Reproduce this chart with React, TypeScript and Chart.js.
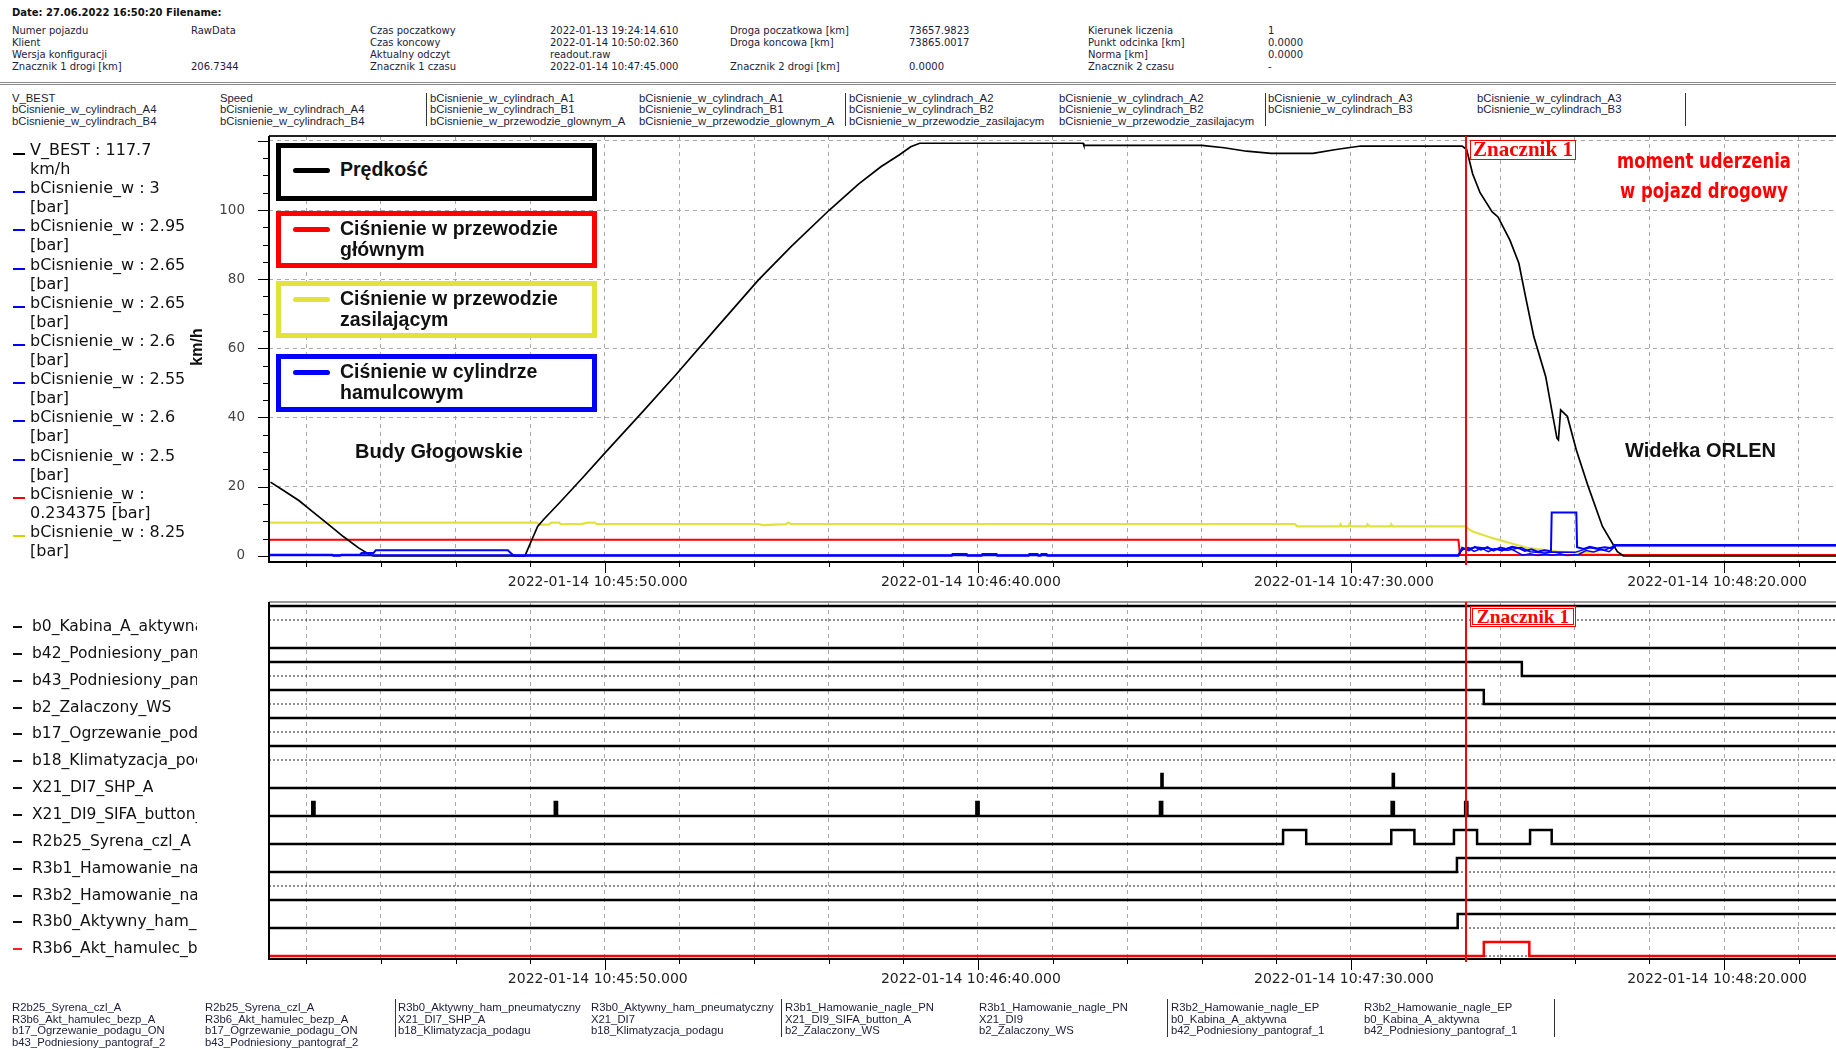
import React, { useEffect, useRef } from 'react';
import { Chart, registerables } from 'chart.js';
Chart.register(...registerables);

type Pt = [number, number];

// ---- time axis (seconds after 2022-01-14 10:45:00) ----
const X_MIN = 5;
const X_MAX = 215;
const GRID_TIMES = [10, 20, 30, 40, 50, 60, 70, 80, 90, 100, 110, 120, 130, 140, 150, 160, 170, 180, 190, 200, 210];
const LABEL_TIMES = [50, 100, 150, 200];
const MARKER_TIME = 165.4;
const Y_TICKS = [0, 5, 10, 15, 20, 25, 30, 35, 40, 45, 50, 55, 60, 65, 70, 75, 80, 85, 90, 95, 100, 105, 110, 115, 120];
const Y_LABELS = [0, 20, 40, 60, 80, 100];

// ---- upper chart series ----
const SPEED: Pt[] = [[5.2, 21.3], [7, 18.8], [9, 16], [11, 12.5], [13, 9], [15, 5.5], [17, 2.3], [18.5, 0.3], [19, 0], [39.3, 0], [39.6, 1.5], [40.3, 5], [41, 8.5], [41.8, 10.5], [44, 15.5], [47, 22.5], [50, 29.7], [55, 41.5], [59.5, 52.3], [65, 66], [70.6, 79.8], [75, 89.5], [80.1, 100], [84, 107.5], [87, 112.5], [89.5, 116], [91, 118.3], [92.2, 119.3], [114.1, 119.3], [114.2, 118.7], [130, 118.7], [133, 118], [136, 117], [139.3, 116.4], [144.9, 116.4], [148, 117.5], [151.3, 118.5], [164.9, 118.5], [165.5, 117.5], [166.3, 110.5], [167.3, 105], [168.9, 99.5], [169.7, 98], [171.3, 91.3], [172.5, 84.6], [173.4, 74.9], [174.5, 63.4], [176.1, 51.8], [176.9, 42.2], [177.6, 34], [177.8, 33.5], [178.1, 42.2], [179, 40.3], [180.2, 30.6], [181.8, 20], [183.7, 8.5], [185.7, 1.2], [186.5, 0], [215, 0]];
const MAIN_PIPE: Pt[] = [[5, 4.65], [164.4, 4.65], [164.6, 0.25], [215, 0.2]];
const SUPPLY_PIPE: Pt[] = [[5, 9.6], [40.9, 9.6], [41.2, 9.0], [42.5, 9.0], [42.8, 9.6], [43.9, 9.6], [44.1, 9.15], [46.7, 9.15], [47.8, 9.6], [48.7, 9.6], [48.9, 9.15], [70.6, 9.15], [71.2, 8.9], [74.3, 9.15], [74.6, 9.6], [75, 9.15], [142.5, 9.15], [142.8, 8.5], [148.5, 8.5], [148.6, 9.1], [148.8, 8.5], [149.7, 8.5], [149.8, 9.1], [150, 8.5], [152.1, 8.5], [152.2, 9.1], [152.5, 8.5], [155.3, 8.5], [155.4, 9.1], [155.6, 8.5], [165.3, 8.5], [166.3, 7.0], [169, 5.1], [171.3, 3.7], [173.6, 2.3], [177.7, 1.2], [181.8, 0.8], [185.7, 0.3], [193.7, 0.1], [215, 0.1]];
const CYL_A: Pt[] = [[5, 0.3], [13.5, 0.3], [13.6, 0], [14.5, 0], [14.7, 0.3], [17.2, 0.3], [17.4, 0.8], [19, 0.8], [19.3, 1.6], [37, 1.6], [37.8, 0], [96.5, 0], [96.6, 0.5], [98.5, 0.5], [98.6, 0], [100.5, 0], [100.6, 0.5], [102.5, 0.5], [102.6, 0], [106.8, 0], [106.9, 0.5], [108, 0.5], [108.1, 0], [108.4, 0], [108.5, 0.5], [109.2, 0.5], [109.3, 0], [164.4, 0], [164.9, 2.3], [165.8, 1.6], [166.6, 2.6], [167.4, 1.8], [168.3, 2.5], [169.1, 1.5], [170, 2.4], [170.8, 2.0], [171.6, 2.6], [172.5, 2.2], [173.3, 1.4], [174.2, 1.9], [175, 1.2], [175.9, 1.6], [176.8, 1.3], [176.9, 12.5], [180.2, 12.5], [180.3, 2.5], [181.2, 2.0], [182, 2.6], [183, 2.1], [184, 2.5], [185, 2.2], [185.3, 3.1], [215, 3.1]];
const CYL_B: Pt[] = [[5, 0.1], [164.4, 0.1], [164.8, 1.6], [165.7, 2.4], [166.5, 1.3], [167.5, 2.2], [168.4, 1.2], [169.3, 2.1], [170.2, 1.4], [171.2, 2.3], [172.3, 1.0], [173, 0.2], [174, 0.6], [175, 0.1], [176, 0.5], [177, 0.2], [178, 0.6], [179, 0.1], [180.5, 0.4], [181.5, 1.5], [182.5, 1.1], [183.5, 1.8], [184.6, 1.2], [185.5, 2.9], [215, 2.9]];
const CYL_C: Pt[] = [[5, 0.2], [164.3, 0.2], [165, 2.0], [167, 2.5], [169, 2.0], [171, 1.6], [172.8, 2.4], [174, 1.2], [176, 0.8], [177, 1.1], [180, 1.0], [182, 2.3], [184, 1.6], [185.4, 3.0], [215, 3.0]];

// ---- lower chart: binary signals ----
const SIGNAL_NAMES = ['b0_Kabina_A_aktywna', 'b42_Podniesiony_pantograf_1', 'b43_Podniesiony_pantograf_2', 'b2_Zalaczony_WS', 'b17_Ogrzewanie_podagu_ON', 'b18_Klimatyzacja_podagu', 'X21_DI7_SHP_A', 'X21_DI9_SIFA_button_A', 'R2b25_Syrena_czl_A', 'R3b1_Hamowanie_nagle_PN', 'R3b2_Hamowanie_nagle_EP', 'R3b0_Aktywny_ham_pneumatyczny', 'R3b6_Akt_hamulec_bezp_A'];
const SIG_B0: Pt[] = [[X_MIN, 1]];
const SIG_B42: Pt[] = [[X_MIN, 0]];
const SIG_B43: Pt[] = [[X_MIN, 1], [172.9, 0]];
const SIG_B2: Pt[] = [[X_MIN, 1], [167.8, 0]];
const SIG_B17: Pt[] = [[X_MIN, 1]];
const SIG_B18: Pt[] = [[X_MIN, 1]];
const SIG_SHP: Pt[] = [[X_MIN, 0], [124.6, 1], [124.75, 0], [155.6, 1], [155.75, 0]];
const SIG_SIFA: Pt[] = [[X_MIN, 0], [10.8, 1], [11.1, 0], [43.3, 1], [43.6, 0], [99.8, 1], [100.1, 0], [124.4, 1], [124.7, 0], [155.45, 1], [155.75, 0], [165.3, 1], [165.6, 0]];
const SIG_SYRENA: Pt[] = [[X_MIN, 0], [140.9, 1], [144.0, 0], [155.4, 1], [158.5, 0], [163.8, 1], [166.9, 0], [174.0, 1], [176.9, 0]];
const SIG_R3B1: Pt[] = [[X_MIN, 0], [164.2, 1]];
const SIG_R3B2: Pt[] = [[X_MIN, 0]];
const SIG_R3B0: Pt[] = [[X_MIN, 0], [164.3, 1]];
const SIG_R3B6: Pt[] = [[X_MIN, 0], [167.8, 1], [173.9, 0]];
const SIGNALS: Pt[][] = [SIG_B0, SIG_B42, SIG_B43, SIG_B2, SIG_B17, SIG_B18, SIG_SHP, SIG_SIFA, SIG_SYRENA, SIG_R3B1, SIG_R3B2, SIG_R3B0, SIG_R3B6];
const SIGNAL_COLORS = ['#000', '#000', '#000', '#000', '#000', '#000', '#000', '#000', '#000', '#000', '#000', '#000', '#ff0000'];
const DOTTED_LEVEL: (number | null)[] = [0, null, 0, 0, 0, 0, null, null, null, 0, 1, 0, 0];

// ---- texts ----
const HEADER_TITLE = 'Date: 27.06.2022 16:50:20  Filename:';
const HEADER_ROWS = [
  ['Numer pojazdu', 'RawData', 'Czas poczatkowy', '2022-01-13 19:24:14.610', 'Droga poczatkowa [km]', '73657.9823', 'Kierunek liczenia', '1'],
  ['Klient', '', 'Czas koncowy', '2022-01-14 10:50:02.360', 'Droga koncowa [km]', '73865.0017', 'Punkt odcinka [km]', '0.0000'],
  ['Wersja konfiguracji', '', 'Aktualny odczyt', 'readout.raw', '', '', 'Norma [km]', '0.0000'],
  ['Znacznik 1 drogi [km]', '206.7344', 'Znacznik 1 czasu', '2022-01-14 10:47:45.000', 'Znacznik 2 drogi [km]', '0.0000', 'Znacznik 2 czasu', '-'],
];
const HEADER_COLS = [12, 191, 370, 550, 730, 909, 1088, 1268];
const TOP_TABLE = [
  ['V_BEST', 'bCisnienie_w_cylindrach_A4', 'bCisnienie_w_cylindrach_B4'],
  ['Speed', 'bCisnienie_w_cylindrach_A4', 'bCisnienie_w_cylindrach_B4'],
  ['bCisnienie_w_cylindrach_A1', 'bCisnienie_w_cylindrach_B1', 'bCisnienie_w_przewodzie_glownym_A'],
  ['bCisnienie_w_cylindrach_A1', 'bCisnienie_w_cylindrach_B1', 'bCisnienie_w_przewodzie_glownym_A'],
  ['bCisnienie_w_cylindrach_A2', 'bCisnienie_w_cylindrach_B2', 'bCisnienie_w_przewodzie_zasilajacym'],
  ['bCisnienie_w_cylindrach_A2', 'bCisnienie_w_cylindrach_B2', 'bCisnienie_w_przewodzie_zasilajacym'],
  ['bCisnienie_w_cylindrach_A3', 'bCisnienie_w_cylindrach_B3'],
  ['bCisnienie_w_cylindrach_A3', 'bCisnienie_w_cylindrach_B3'],
];
const TOP_TABLE_X = [12, 220, 430, 639, 849, 1059, 1268, 1477];
const TOP_TABLE_SEP = [426, 845, 1265, 1685];
const BOTTOM_TABLE = [
  ['R2b25_Syrena_czl_A', 'R3b6_Akt_hamulec_bezp_A', 'b17_Ogrzewanie_podagu_ON', 'b43_Podniesiony_pantograf_2'],
  ['R2b25_Syrena_czl_A', 'R3b6_Akt_hamulec_bezp_A', 'b17_Ogrzewanie_podagu_ON', 'b43_Podniesiony_pantograf_2'],
  ['R3b0_Aktywny_ham_pneumatyczny', 'X21_DI7_SHP_A', 'b18_Klimatyzacja_podagu'],
  ['R3b0_Aktywny_ham_pneumatyczny', 'X21_DI7', 'b18_Klimatyzacja_podagu'],
  ['R3b1_Hamowanie_nagle_PN', 'X21_DI9_SIFA_button_A', 'b2_Zalaczony_WS'],
  ['R3b1_Hamowanie_nagle_PN', 'X21_DI9', 'b2_Zalaczony_WS'],
  ['R3b2_Hamowanie_nagle_EP', 'b0_Kabina_A_aktywna', 'b42_Podniesiony_pantograf_1'],
  ['R3b2_Hamowanie_nagle_EP', 'b0_Kabina_A_aktywna', 'b42_Podniesiony_pantograf_1'],
];
const BOTTOM_TABLE_X = [12, 205, 398, 591, 785, 979, 1171, 1364];
const BOTTOM_TABLE_SEP = [395, 781, 1167, 1554];
const CURSOR_VALUES = [
  { color: '#000000', lines: ['V_BEST : 117.7', 'km/h'] },
  { color: '#0000ff', lines: ['bCisnienie_w : 3', '[bar]'] },
  { color: '#0000ff', lines: ['bCisnienie_w : 2.95', '[bar]'] },
  { color: '#0000ff', lines: ['bCisnienie_w : 2.65', '[bar]'] },
  { color: '#0000ff', lines: ['bCisnienie_w : 2.65', '[bar]'] },
  { color: '#0000ff', lines: ['bCisnienie_w : 2.6', '[bar]'] },
  { color: '#0000ff', lines: ['bCisnienie_w : 2.55', '[bar]'] },
  { color: '#0000ff', lines: ['bCisnienie_w : 2.6', '[bar]'] },
  { color: '#0000ff', lines: ['bCisnienie_w : 2.5', '[bar]'] },
  { color: '#ff0000', lines: ['bCisnienie_w :', '0.234375 [bar]'] },
  { color: '#d4d400', lines: ['bCisnienie_w : 8.25', '[bar]'] },
];
const LEGEND_BOXES = [
  { color: '#000000', top: 143, height: 58, lines: ['Prędkość'] },
  { color: '#ff0000', top: 211, height: 57, lines: ['Ciśnienie w przewodzie', 'głównym'] },
  { color: '#e2e23c', top: 281, height: 57, lines: ['Ciśnienie w przewodzie', 'zasilającym'] },
  { color: '#0000ff', top: 354, height: 58, lines: ['Ciśnienie w cylindrze', 'hamulcowym'] },
];

const YELLOW = '#e2e23c';

function fmtTime(t: number): string {
  const total = 45 * 60 + t;
  const m = Math.floor(total / 60);
  const s = Math.round(total - m * 60);
  return `2022-01-14 10:${String(m).padStart(2, '0')}:${String(s).padStart(2, '0')}.000`;
}
const xy = (pts: Pt[]) => pts.map(([x, y]) => ({ x, y }));

function makeFramePlugin(withYTicks: boolean, topColor: string) {
  return {
    id: 'frameAndMarks',
    afterDraw(chart: any) {
      const { ctx, chartArea: a, scales } = chart;
      const x = scales.x;
      const y = scales.y;
      ctx.save();
      ctx.strokeStyle = '#000';
      ctx.lineWidth = 1;
      ctx.beginPath();
      GRID_TIMES.forEach((t) => {
        const px = Math.round(x.getPixelForValue(t)) + 0.5;
        const len = LABEL_TIMES.includes(t) ? 12 : 6;
        ctx.moveTo(px, a.bottom);
        ctx.lineTo(px, a.bottom + len);
      });
      if (withYTicks) {
        Y_TICKS.forEach((v) => {
          const py = Math.round(y.getPixelForValue(v)) + 0.5;
          const len = v % 20 === 0 ? 11 : 6;
          ctx.moveTo(a.left - len, py);
          ctx.lineTo(a.left, py);
        });
      }
      ctx.stroke();
      // frame
      ctx.lineWidth = 2;
      ctx.strokeStyle = topColor;
      ctx.beginPath();
      ctx.moveTo(a.left, a.top);
      ctx.lineTo(a.right, a.top);
      ctx.stroke();
      ctx.strokeStyle = '#000';
      ctx.beginPath();
      ctx.moveTo(a.left, a.top);
      ctx.lineTo(a.left, a.bottom + 1);
      ctx.lineTo(a.right, a.bottom + 1);
      ctx.stroke();
      // marker
      const mx = Math.round(x.getPixelForValue(MARKER_TIME));
      ctx.strokeStyle = '#ff0000';
      ctx.lineWidth = 2;
      ctx.beginPath();
      ctx.moveTo(mx, a.top);
      ctx.lineTo(mx, a.bottom + 4);
      ctx.stroke();
      ctx.restore();
    },
  };
}

function xScale(height: number) {
  return {
    type: 'linear',
    min: X_MIN,
    max: X_MAX,
    afterBuildTicks: (s: any) => {
      s.ticks = GRID_TIMES.map((v) => ({ value: v }));
    },
    afterFit: (s: any) => {
      s.height = height;
      s.paddingLeft = 0;
      s.paddingRight = 0;
      s.paddingTop = 0;
      s.paddingBottom = 0;
    },
    grid: { color: '#a8a8a8', lineWidth: 1, drawTicks: false, borderDash: [4, 4] },
    border: { display: false, dash: [4, 4] },
    ticks: {
      autoSkip: false,
      maxRotation: 0,
      minRotation: 0,
      padding: 13,
      labelOffset: -7,
      color: '#222',
      font: { family: 'DejaVu Sans', size: 14 },
      callback: (v: number) => (LABEL_TIMES.includes(v) ? fmtTime(v) : ''),
    },
  };
}

function UpperChart() {
  const ref = useRef<HTMLCanvasElement>(null);
  useEffect(() => {
    const line = (data: Pt[], color: string, w: number) => ({
      data: xy(data),
      borderColor: color,
      borderWidth: w,
      pointRadius: 0,
      tension: 0,
      fill: false,
    });
    const chart = new Chart(ref.current as HTMLCanvasElement, {
      type: 'line',
      data: {
        datasets: [
          line(CYL_A, '#0000ff', 2),
          line(CYL_B, '#0000ff', 1.5),
          line(CYL_C, '#0000ff', 1.5),
          line(SPEED, '#000000', 1.7),
          line(MAIN_PIPE, '#ff0000', 2),
          line(SUPPLY_PIPE, YELLOW, 2.2),
        ] as any,
      },
      options: {
        animation: false,
        responsive: false,
        devicePixelRatio: 1,
        layout: { padding: { top: 8, left: 0, right: 0, bottom: 0 } },
        plugins: { legend: { display: false }, tooltip: { enabled: false } },
        scales: {
          x: xScale(39) as any,
          y: {
            type: 'linear',
            min: -1.5,
            max: 121.4,
            afterBuildTicks: (s: any) => {
              s.ticks = Y_TICKS.map((v) => ({ value: v }));
            },
            afterFit: (s: any) => {
              s.width = 109;
              s.paddingLeft = 0;
              s.paddingRight = 0;
              s.paddingTop = 0;
              s.paddingBottom = 0;
            },
            grid: {
              color: (c: any) => (c.tick && c.tick.value % 20 === 0 && c.tick.value > 0 ? '#a8a8a8' : 'rgba(0,0,0,0)'),
              lineWidth: 1,
              drawTicks: false,
              borderDash: [4, 4],
            },
            border: { display: false, dash: [4, 4] },
            ticks: {
              autoSkip: false,
              padding: 24,
              color: '#444',
              font: { family: 'DejaVu Sans', size: 13.5 },
              callback: (v: number) => (Y_LABELS.includes(v) ? String(v) : ''),
            },
          } as any,
        },
      },
      plugins: [makeFramePlugin(true, '#222')],
    });
    return () => chart.destroy();
  }, []);
  return <canvas ref={ref} width={1676} height={472} style={{ position: 'absolute', left: 160, top: 128 }} />;
}

function LowerChart() {
  const ref = useRef<HTMLCanvasElement>(null);
  useEffect(() => {
    const rowY = (k: number, v: number) => k + 0.643 - 0.5 * v;
    const sigSets = SIGNALS.map((sig, k) => {
      const pts = sig.map(([t, v]) => ({ x: t, y: rowY(k, v) }));
      pts.push({ x: X_MAX, y: rowY(k, sig[sig.length - 1][1]) });
      return {
        data: pts,
        borderColor: SIGNAL_COLORS[k],
        borderWidth: 2.5,
        pointRadius: 0,
        stepped: 'before',
        fill: false,
      };
    });
    const dotSets = DOTTED_LEVEL.map((lvl, k) =>
      lvl === null
        ? null
        : {
            data: [
              { x: X_MIN, y: rowY(k, lvl) },
              { x: X_MAX, y: rowY(k, lvl) },
            ],
            borderColor: '#222',
            borderWidth: 1,
            borderDash: [2, 2],
            pointRadius: 0,
            fill: false,
          }
    ).filter(Boolean);
    const chart = new Chart(ref.current as HTMLCanvasElement, {
      type: 'line',
      data: { datasets: [...sigSets, ...dotSets] as any },
      options: {
        animation: false,
        responsive: false,
        devicePixelRatio: 1,
        layout: { padding: { top: 7, left: 0, right: 0, bottom: 0 } },
        plugins: { legend: { display: false }, tooltip: { enabled: false } },
        scales: {
          x: xScale(42) as any,
          y: {
            type: 'linear',
            reverse: true,
            min: 0,
            max: 12.714,
            afterFit: (s: any) => {
              s.width = 109;
              s.paddingLeft = 0;
              s.paddingRight = 0;
              s.paddingTop = 0;
              s.paddingBottom = 0;
            },
            grid: { display: false, drawTicks: false },
            border: { display: false },
            ticks: { display: false },
          } as any,
        },
      },
      plugins: [makeFramePlugin(false, '#999')],
    });
    return () => chart.destroy();
  }, []);
  return <canvas ref={ref} width={1676} height={405} style={{ position: 'absolute', left: 160, top: 595 }} />;
}

const abs = (left: number, top: number, extra: React.CSSProperties = {}): React.CSSProperties => ({
  position: 'absolute',
  left,
  top,
  whiteSpace: 'nowrap',
  ...extra,
});

export default function App() {
  useEffect(() => {
    document.body.style.margin = '0';
  }, []);
  const headerFont: React.CSSProperties = { fontFamily: 'DejaVu Sans', fontSize: 10, lineHeight: '12px', color: '#1c1c3c' };
  const tableFont: React.CSSProperties = { fontFamily: 'Liberation Sans', fontSize: 11.3, lineHeight: '11.4px', color: '#1c1c3c' };
  return (
    <div style={{ position: 'relative', width: 1836, height: 1049, overflow: 'hidden', background: '#fff' }}>
      {/* header */}
      <div style={abs(12, 7, { ...headerFont, fontWeight: 'bold', color: '#111' })}>{HEADER_TITLE}</div>
      {HEADER_ROWS.map((row, r) =>
        row.map((cell, c) => (
          <div key={`h${r}-${c}`} style={abs(HEADER_COLS[c], 25 + r * 12.1, headerFont)}>
            {cell}
          </div>
        ))
      )}
      <div style={abs(0, 82, { width: 1836, height: 0, borderTop: '3px double #8a8a8a' })} />
      {TOP_TABLE.map((col, c) =>
        col.map((cell, r) => (
          <div key={`t${c}-${r}`} style={abs(TOP_TABLE_X[c], 93 + r * 11.4, tableFont)}>
            {cell}
          </div>
        ))
      )}
      {TOP_TABLE_SEP.map((x) => (
        <div key={`ts${x}`} style={abs(x, 93, { width: 1, height: 33, background: '#333' })} />
      ))}

      <UpperChart />
      <LowerChart />

      {/* cursor value list */}
      {CURSOR_VALUES.map((e, i) => (
        <React.Fragment key={`cv${i}`}>
          <div style={abs(13, 150 + i * 38.2 + 3, { width: 12, height: 2, background: e.color })} />
          <div style={abs(30, 140 + i * 38.2, { fontFamily: 'DejaVu Sans', fontSize: 16, lineHeight: '19.1px', color: '#111' })}>
            {e.lines[0]}
            <br />
            {e.lines[1]}
          </div>
        </React.Fragment>
      ))}
      <div style={abs(197, 347, { fontFamily: 'Liberation Sans', fontWeight: 'bold', fontSize: 16, transform: 'translate(-50%,-50%) rotate(-90deg)', color: '#111' })}>km/h</div>

      {/* legend boxes */}
      {LEGEND_BOXES.map((b, i) => (
        <div key={`lb${i}`} style={abs(276, b.top, { width: 321, height: b.height, boxSizing: 'border-box', border: `5px solid ${b.color}`, background: '#fff' })}>
          <div style={abs(12, b.lines.length === 1 ? 20 : 11, { width: 37, height: 5, borderRadius: 3, background: b.color })} />
          <div style={abs(59, b.lines.length === 1 ? 11 : 2, { fontFamily: 'Liberation Sans', fontWeight: 'bold', fontSize: 19.5, lineHeight: '21px', color: '#111' })}>
            {b.lines.map((l, j) => (
              <div key={j}>{l}</div>
            ))}
          </div>
        </div>
      ))}
      <div style={abs(355, 440, { fontFamily: 'Liberation Sans', fontWeight: 'bold', fontSize: 20, color: '#111' })}>Budy Głogowskie</div>
      <div style={abs(1625, 439, { fontFamily: 'Liberation Sans', fontWeight: 'bold', fontSize: 20, color: '#111' })}>Widełka ORLEN</div>
      <div style={abs(1704, 146, { fontFamily: '"Liberation Sans Narrow", "DejaVu Sans Condensed", "Liberation Sans"', fontStretch: 'condensed', fontWeight: 'bold', fontSize: 21, lineHeight: '30px', color: '#ff0000', textAlign: 'center', transform: 'translateX(-50%) scaleX(0.87)' })}>
        moment uderzenia
        <br />w pojazd drogowy
      </div>
      <div style={abs(1470, 140, { width: 106, height: 20, boxSizing: 'border-box', border: '1.5px solid #ff0000', background: '#fff', color: '#ff0000', fontFamily: 'Liberation Serif', fontWeight: 'bold', fontSize: 21, lineHeight: '17px', textAlign: 'center' })}>Znacznik 1</div>
      <div style={abs(1470, 606, { width: 106, height: 21, boxSizing: 'border-box', border: '3px double #ff0000', background: '#fff', color: '#ff0000', fontFamily: 'Liberation Serif', fontWeight: 'bold', fontSize: 19.5, lineHeight: '15px', textAlign: 'center' })}>Znacznik 1</div>

      {/* signal labels */}
      {SIGNAL_NAMES.map((n, i) => (
        <React.Fragment key={`sn${i}`}>
          <div style={abs(13, 626 + i * 26.85, { width: 9, height: 2, background: SIGNAL_COLORS[i] === '#000' ? '#111' : '#ff2020' })} />
          <div style={abs(32, 616 + i * 26.85, { width: 165, overflow: 'hidden', fontFamily: 'DejaVu Sans', fontSize: 15.5, lineHeight: '20px', color: '#111' })}>{n}</div>
        </React.Fragment>
      ))}

      {/* footer table */}
      {BOTTOM_TABLE.map((col, c) =>
        col.map((cell, r) => (
          <div key={`b${c}-${r}`} style={abs(BOTTOM_TABLE_X[c], 1002 + r * 11.6, tableFont)}>
            {cell}
          </div>
        ))
      )}
      {BOTTOM_TABLE_SEP.map((x) => (
        <div key={`bs${x}`} style={abs(x, 999, { width: 1, height: 38, background: '#333' })} />
      ))}
    </div>
  );
}
